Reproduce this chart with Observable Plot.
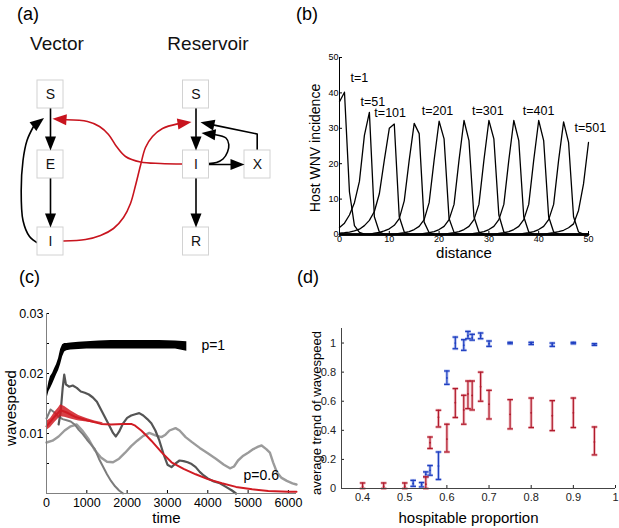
<!DOCTYPE html>
<html>
<head>
<meta charset="utf-8">
<script src="https://cdn.jsdelivr.net/npm/d3@7"></script>
<script src="https://cdn.jsdelivr.net/npm/@observablehq/plot@0.6"></script>
<style>
 html,body{margin:0;padding:0;background:#fff;}
 #fig{position:relative;width:619px;height:528px;overflow:hidden;font-family:"Liberation Sans",Arial,Helvetica,sans-serif;color:#000;}
 #fig svg{position:absolute;font-family:"Liberation Sans",Arial,Helvetica,sans-serif;overflow:visible;}
 .tag{position:absolute;font-size:18px;line-height:1;}
</style>
</head>
<body>
<div id="fig">
 <div class="tag" style="left:17px;top:5px">(a)</div>
 <div class="tag" style="left:296px;top:5px">(b)</div>
 <div class="tag" style="left:19px;top:268px">(c)</div>
 <div class="tag" style="left:297px;top:268px">(d)</div>
</div>
<script>
// ================= DATA =================
// (a) compartment diagram
const nodeLabels = ["S","E","I","S","I","X","R"];
const nodeX      = [50, 50, 50, 195.5, 195.5, 257, 195.5];
const nodeY      = [94, 164, 241, 94, 164, 164, 241];
const groupNames = ["Vector","Reservoir"];
const groupX     = [56.5, 207.5];
const groupY     = [43.5, 43.5];
// arrows: path points, arrow tip, head angle, colour
const edgePaths = [
  [[50,108],[50,138]],
  [[50,178],[50,215]],
  [[38,243],[29,236],[22.5,220],[20.7,190],[22.5,160],[26.5,140],[33,126]],
  [[183,163.5],[160,163],[140,161.5],[125,156],[116,146],[108,134],[99,126],[87,121],[66,119.3]],
  [[63,240.5],[85,239],[100,235],[113,228],[123,217],[130,203],[135,185],[140,165],[145,147],[152,136],[162,128],[177,123.4]],
  [[195.5,108],[195.5,138]],
  [[195.5,178],[195.5,215]],
  [[208.5,164],[232,164]],
  [[208.5,163],[216,162],[222.5,158.5],[227,151.5],[228.3,144],[225.5,137.5],[215,134.2]],
  [[256.7,150],[256.7,133.5],[213.7,124.6]]
];
const edgeCurved = [false,false,true,true,true,false,false,false,true,false];
const edgeRed    = [false,false,false,true,true,false,false,false,false,false];
const edgeTipX   = [50, 50, 43.5, 52, 191, 195.5, 195.5, 244, 201, 200];
const edgeTipY   = [150, 227, 117.5, 118.3, 121.5, 150, 227, 164, 132.5, 121.7];
const edgeAngle  = [180, 180, 52, -86, 82, 180, 180, 90, -83, -78];

// (b) travelling waves: start distance and incidence values
const waveTimes  = [1, 51, 101, 151, 201, 251, 301, 351, 401, 451, 501];
const waveStarts = [0, 0, 0, 7, 12, 17, 22, 27, 32, 37, 42];
const waveValues = [
  [37.5, 40.2, 12, 2.5, 0.6, 0.1],
  [2, 3.2, 5.5, 9, 15, 28, 34.5, 5, 0.7, 0.1],
  [0.4, 0.5, 0.7, 1, 1.5, 2.5, 4, 6.5, 11.5, 21, 30, 31.2, 5, 0.7, 0.1],
  [0.4, 0.6, 1, 1.6, 2.6, 4.5, 9.5, 21, 31.4, 28.5, 3.5, 0.5, 0.1],
  [0.3, 0.5, 0.8, 1.4, 2.3, 4.2, 9, 21, 32, 27, 4.5, 0.6, 0.1],
  [0.3, 0.5, 0.8, 1.4, 2.3, 4.2, 8.5, 21, 32.2, 26.5, 5, 0.7, 0.1],
  [0.3, 0.5, 0.8, 1.4, 2.3, 4.2, 8.5, 21, 32.2, 27, 5.5, 0.7, 0.1],
  [0.3, 0.5, 0.8, 1.4, 2.3, 4.2, 8.5, 21, 32.2, 26.5, 5, 0.7, 0.1],
  [0.3, 0.5, 0.8, 1.4, 2.3, 4.2, 8.5, 21, 32.2, 26.5, 5, 0.7, 0.1],
  [0.3, 0.5, 0.8, 1.4, 2.3, 4.2, 8.5, 21, 31.8, 26, 5, 0.7, 0.1],
  [0.3, 0.5, 0.8, 1.2, 1.9, 3, 6.8, 14.3, 26]
];
const waveLabelText = ["t=1","t=51","t=101","t=201","t=301","t=401","t=501"];
const waveLabelD    = [2.2, 4.2, 7.0, 16.5, 26.6, 36.8, 47.2];
const waveLabelV    = [44.1, 37.5, 34.3, 34.8, 34.8, 34.8, 30];
const bTicks = [0, 10, 20, 30, 40, 50];

// (c) wavespeed through time
const blackT  = [20, 60, 100, 150, 200, 250, 300, 350, 400, 450, 500, 600, 800, 1000, 1300, 1600, 2000, 2400, 2800, 3200, 3480];
const blackLo = [0.0160,0.0170,0.0175,0.0182,0.0190,0.0198,0.0205,0.0215,0.0228,0.0236,0.0238,0.0239,0.0240,0.0241,0.0241,0.0241,0.0241,0.0241,0.0241,0.0241,0.0237];
const blackHi = [0.0172,0.0186,0.0195,0.0200,0.0208,0.0215,0.0225,0.0240,0.0248,0.0250,0.0250,0.0251,0.0252,0.0253,0.0254,0.0255,0.0255,0.0255,0.0255,0.0254,0.0253];
const darkT = [300,350,400,440,480,560,650,750,850,950,1050,1150,1250,1350,1450,1550,1650,1720,1800,1900,2000,2100,2200,2300,2400,2500,2600,2700,2800,2900,3000,3100,3200,3300,3400,3500,3600,3700,3800,3900,4000,4150,4300,4450,4600,4700];
const darkV = [0.0115,0.0135,0.0175,0.0198,0.0182,0.0178,0.018,0.0176,0.017,0.0168,0.0165,0.016,0.0153,0.014,0.0127,0.0114,0.0101,0.0095,0.0103,0.0117,0.0126,0.013,0.0132,0.0134,0.013,0.0124,0.0117,0.0105,0.0088,0.0066,0.0048,0.0044,0.005,0.0055,0.0054,0.0052,0.0049,0.0044,0.0036,0.003,0.0025,0.002,0.0017,0.0011,0.0005,0];
const midT = [0,100,200,300,400,500,600,700,800,900,1000,1100,1200,1300,1400,1500,1600,1700,1800,1900];
const midV = [0.0125,0.014,0.0135,0.0128,0.0124,0.0122,0.012,0.0115,0.0106,0.0099,0.009,0.0082,0.0074,0.0058,0.0045,0.0032,0.0021,0.0012,0.0005,0];
const lightT = [0,150,300,450,600,750,900,1050,1200,1350,1500,1650,1800,1950,2100,2250,2400,2550,2700,2850,2950,3050,3200,3300,3450,3600,3800,4000,4200,4400,4550,4650,4750,4880,5000,5130,5250,5335,5450,5540,5620,5710,5830,5960,6100,6200];
const lightV = [0.0085,0.0088,0.0095,0.0105,0.0112,0.0115,0.0104,0.009,0.0072,0.006,0.0053,0.0052,0.0058,0.0068,0.0079,0.0088,0.0096,0.0101,0.0097,0.0094,0.0098,0.0105,0.0109,0.0105,0.0094,0.0086,0.0076,0.0067,0.0058,0.0048,0.0042,0.0045,0.0055,0.0063,0.0068,0.0074,0.0078,0.008,0.0074,0.0068,0.0052,0.0036,0.0026,0.0021,0.0017,0.0015];
const redBandT  = [0,100,200,300,350,450,600,800,1000,1200,1400];
const redBandLo = [0.0105,0.011,0.0118,0.0125,0.0128,0.0127,0.0124,0.0121,0.0119,0.0117,0.0116];
const redBandHi = [0.012,0.0125,0.0135,0.0143,0.0148,0.0145,0.0138,0.013,0.0125,0.0121,0.0118];
const redT = [0,100,200,350,500,700,1000,1350,1600,1900,2100,2200,2350,2500,2600,2850,3100,3400,3700,4000,4350,4700,5100,5500,6000,6200];
const redV = [0.0112,0.012,0.0128,0.0139,0.0135,0.0128,0.0122,0.0116,0.0115,0.0116,0.0116,0.0113,0.0105,0.0095,0.0088,0.0069,0.0052,0.0041,0.0032,0.0024,0.0017,0.0011,0.0007,0.0004,0.0003,0.0003];
const cLabelText = ["p=1","p=0.6"];
const cLabelT    = [3841, 4887];
const cLabelV    = [0.0246, 0.003];
const cXTicks = [0,1000,2000,3000,4000,5000,6000];
const cYTicks = [0.005,0.01,0.015,0.02,0.025,0.03];

// (d) average trend of wavespeed vs hospitable proportion
const blueP  = [0.52,0.54,0.55,0.56,0.58,0.60,0.62,0.64,0.65,0.66,0.68,0.70,0.75,0.80,0.85,0.90,0.95];
const blueM  = [0.035,0.026,0.097,0.125,0.155,0.76,1.0,0.985,1.05,1.035,1.05,0.995,1.0,0.997,0.988,1.0,0.99];
const blueLo = [0.015,0.011,0.08,0.091,0.062,0.716,0.961,0.95,1.03,1.02,1.03,0.977,0.995,0.99,0.977,0.995,0.984];
const blueHi = [0.056,0.041,0.114,0.158,0.251,0.808,1.041,1.023,1.08,1.06,1.069,1.014,1.005,1.005,1.0,1.005,0.996];
const redP   = [0.40,0.45,0.50,0.55,0.56,0.58,0.60,0.62,0.64,0.65,0.66,0.68,0.70,0.75,0.80,0.85,0.90,0.95];
const redM   = [0.015,0.015,0.015,0.03,0.315,0.49,0.34,0.59,0.54,0.65,0.64,0.70,0.58,0.51,0.52,0.50,0.52,0.32];
const redLo  = [0,0,0,0,0.275,0.423,0.251,0.488,0.442,0.549,0.54,0.60,0.478,0.41,0.419,0.398,0.419,0.231];
const redHi  = [0.038,0.038,0.038,0.08,0.354,0.538,0.442,0.687,0.641,0.739,0.739,0.80,0.675,0.611,0.622,0.604,0.622,0.423];
const dXTicks = [0.4,0.5,0.6,0.7,0.8,0.9,1];
const dYTicks = [0,0.2,0.4,0.6,0.8,1];

// ================= BUILD =================
const fig = document.getElementById("fig");
function place(svg, left, top) {
  svg.style.left = left + "px";
  svg.style.top = top + "px";
  fig.appendChild(svg);
}
const headSymbol = {draw(ctx) { ctx.moveTo(0, 0); ctx.lineTo(5.5, 14); ctx.lineTo(-5.5, 14); ctx.closePath(); }};
const capSymbol  = {draw(ctx) { ctx.moveTo(-2.8, 0); ctx.lineTo(2.8, 0); }};
const RED_A = "#c8141e";
// axis titles drawn as text marks
const yTitle = (s, dx, dy, fontSize) => Plot.text([s], {text: d => d, frameAnchor: "left", textAnchor: "middle", lineAnchor: "middle", rotate: -90, dx, dy, fontSize, fill: "#000"});
const xTitle = (s, dx, dy, fontSize) => Plot.text([s], {text: d => d, frameAnchor: "bottom", textAnchor: "middle", lineAnchor: "middle", dx, dy, fontSize, fill: "#000"});

// ----- (a) -----
const nodes = nodeLabels.map((label, i) => ({label, x: nodeX[i], y: nodeY[i]}));
const groups = groupNames.map((name, i) => ({name, x: groupX[i], y: groupY[i]}));
const edgeRows = [];
edgePaths.forEach((pts, k) => pts.forEach(([x, y]) => edgeRows.push({edge: k, x, y, curved: edgeCurved[k], red: edgeRed[k]})));
const heads = edgePaths.map((_, k) => ({x: edgeTipX[k], y: edgeTipY[k], angle: edgeAngle[k], red: edgeRed[k]}));
const ecol = d => d.red ? RED_A : "#000";

const plotA = Plot.plot({
  width: 300, height: 270, margin: 0,
  style: {background: "transparent", overflow: "visible"},
  x: {domain: [0, 300], range: [0, 300], axis: null},
  y: {domain: [0, 270], range: [0, 270], axis: null},
  marks: [
    Plot.line(edgeRows.filter(d => !d.curved), {x: "x", y: "y", z: "edge", stroke: ecol, strokeWidth: 1.6}),
    Plot.line(edgeRows.filter(d => d.curved), {x: "x", y: "y", z: "edge", stroke: ecol, strokeWidth: 1.6, curve: "catmull-rom"}),
    Plot.rect(nodes, {x1: d => d.x - 13, x2: d => d.x + 13, y1: d => d.y - 14, y2: d => d.y + 14, fill: "#fff", stroke: "#d2d2d2", strokeWidth: 1}),
    Plot.text(nodes, {x: "x", y: "y", text: "label", fontSize: 14, fill: "#111"}),
    Plot.text(groups, {x: "x", y: "y", text: "name", fontSize: 19, fill: "#111"}),
    Plot.dot(heads, {x: "x", y: "y", rotate: "angle", symbol: headSymbol, fill: ecol, stroke: "none", r: 5})
  ]
});
place(plotA, 0, 0);

// ----- (b) -----
const distance = d3.range(0, 51);
const waveRows = [];
waveValues.forEach((vals, k) => distance.forEach(d => {
  const i = d - waveStarts[k];
  waveRows.push({t: waveTimes[k], d, v: i >= 0 && i < vals.length ? vals[i] : 0});
}));
const waveLabels = waveLabelText.map((text, i) => ({text, d: waveLabelD[i], v: waveLabelV[i]}));

const plotB = Plot.plot({
  width: 310, height: 230, marginLeft: 43, marginRight: 18, marginTop: 17, marginBottom: 36,
  style: {fontSize: "9px", color: "#000", background: "transparent", overflow: "visible"},
  x: {domain: [0, 50], ticks: bTicks, tickSize: -3, tickPadding: 4.5, label: null},
  y: {domain: [0, 50], ticks: bTicks, tickSize: -3, tickPadding: 4, label: null},
  marks: [
    Plot.line(waveRows, {x: "d", y: "v", z: "t", stroke: "#000", strokeWidth: 1.3}),
    Plot.ruleX([0], {stroke: "#000"}),
    Plot.ruleY([0], {stroke: "#000", strokeWidth: 1.5}),
    Plot.text(waveLabels, {x: "d", y: "v", text: "text", textAnchor: "start", fontSize: 12.5}),
    yTitle("Host WNV incidence", -24, 2, 14),
    xTitle("distance", 0, 18.5, 15)
  ]
});
place(plotB, 296, 40);

// ----- (c) -----
const blackRows = blackT.map((t, i) => ({t, lo: blackLo[i], hi: blackHi[i]}));
const darkRows  = darkT.map((t, i) => ({t, v: darkV[i]}));
const midRows   = midT.map((t, i) => ({t, v: midV[i]}));
const lightRows = lightT.map((t, i) => ({t, v: lightV[i]}));
const redBand   = redBandT.map((t, i) => ({t, lo: redBandLo[i], hi: redBandHi[i]}));
const redRows   = redT.map((t, i) => ({t, v: redV[i]}));
const cLabels   = cLabelText.map((text, i) => ({text, t: cLabelT[i], v: cLabelV[i]}));

const plotC = Plot.plot({
  width: 305, height: 233, marginLeft: 46, marginRight: 9, marginTop: 18, marginBottom: 35,
  style: {fontSize: "12.5px", color: "#000", background: "transparent", overflow: "visible"},
  x: {domain: [0, 6200], ticks: cXTicks, tickFormat: d => String(d), tickSize: -3, tickPadding: 8, label: null},
  y: {domain: [0, 0.03], ticks: cYTicks, tickFormat: d => (Math.abs(d * 100 - Math.round(d * 100)) < 1e-9 ? d.toFixed(2) : ""), tickSize: -3, tickPadding: 6, label: null},
  marks: [
    Plot.line(lightRows, {x: "t", y: "v", stroke: "#9b9b9b", strokeWidth: 2.4}),
    Plot.line(midRows, {x: "t", y: "v", stroke: "#7c7c7c", strokeWidth: 2}),
    Plot.line(darkRows, {x: "t", y: "v", stroke: "#555", strokeWidth: 2.2}),
    Plot.areaY(redBand, {x: "t", y1: "lo", y2: "hi", fill: "#d01c24", fillOpacity: 0.85}),
    Plot.line(redRows, {x: "t", y: "v", stroke: "#d01c24", strokeWidth: 2}),
    Plot.areaY(blackRows, {x: "t", y1: "lo", y2: "hi", fill: "#000"}),
    Plot.ruleX([0], {stroke: "#808080"}),
    Plot.ruleY([0], {stroke: "#808080"}),
    Plot.text(cLabels, {x: "t", y: "v", text: "text", textAnchor: "start", fontSize: 14}),
    yTitle("wavespeed", -35, 4.5, 15),
    xTitle("time", -5, 25, 15)
  ]
});
place(plotC, 0, 295);

// ----- (d) -----
const blueRows = blueP.map((p, i) => ({p, m: blueM[i], lo: blueLo[i], hi: blueHi[i]}));
const redBars  = redP.map((p, i) => ({p, m: redM[i], lo: redLo[i], hi: redHi[i]}));
const caps = rows => rows.flatMap(d => [{p: d.p, y: d.lo}, {p: d.p, y: d.hi}]);
function errorMarks(rows, light, dark) {
  return [
    Plot.ruleX(rows, {x: "p", y1: "lo", y2: "hi", stroke: light, strokeWidth: 3, strokeOpacity: 0.55}),
    Plot.dot(caps(rows), {x: "p", y: "y", symbol: capSymbol, stroke: light, strokeWidth: 3, strokeOpacity: 0.55, fill: "none"}),
    Plot.ruleX(rows, {x: "p", y1: "lo", y2: "hi", stroke: dark, strokeWidth: 1.2}),
    Plot.dot(caps(rows), {x: "p", y: "y", symbol: capSymbol, stroke: dark, strokeWidth: 1.3, fill: "none"}),
    Plot.dot(rows, {x: "p", y: "m", r: 0.9, fill: dark, stroke: "none"})
  ];
}
const plotD = Plot.plot({
  width: 319, height: 218, marginLeft: 41, marginRight: 4, marginTop: 18, marginBottom: 40,
  style: {fontSize: "11px", color: "#222", background: "transparent", overflow: "visible"},
  x: {domain: [0.35, 1], ticks: dXTicks, tickFormat: d => String(d), tickSize: -3, tickPadding: 8, label: null},
  y: {domain: [0, 1.1], ticks: dYTicks, tickFormat: d => String(d), tickSize: -3, tickPadding: 8.5, label: null},
  marks: [
    ...errorMarks(blueRows, "#7f95e6", "#1f3fc0"),
    ...errorMarks(redBars, "#e58a93", "#b01a2c"),
    Plot.ruleX([0.35], {stroke: "#444"}),
    Plot.ruleY([0], {stroke: "#444"}),
    yTitle("average trend of wavespeed", -25, 4.5, 13),
    xTitle("hospitable proportion", -10, 30, 15)
  ]
});
place(plotD, 300, 310);
</script>
</body>
</html>
